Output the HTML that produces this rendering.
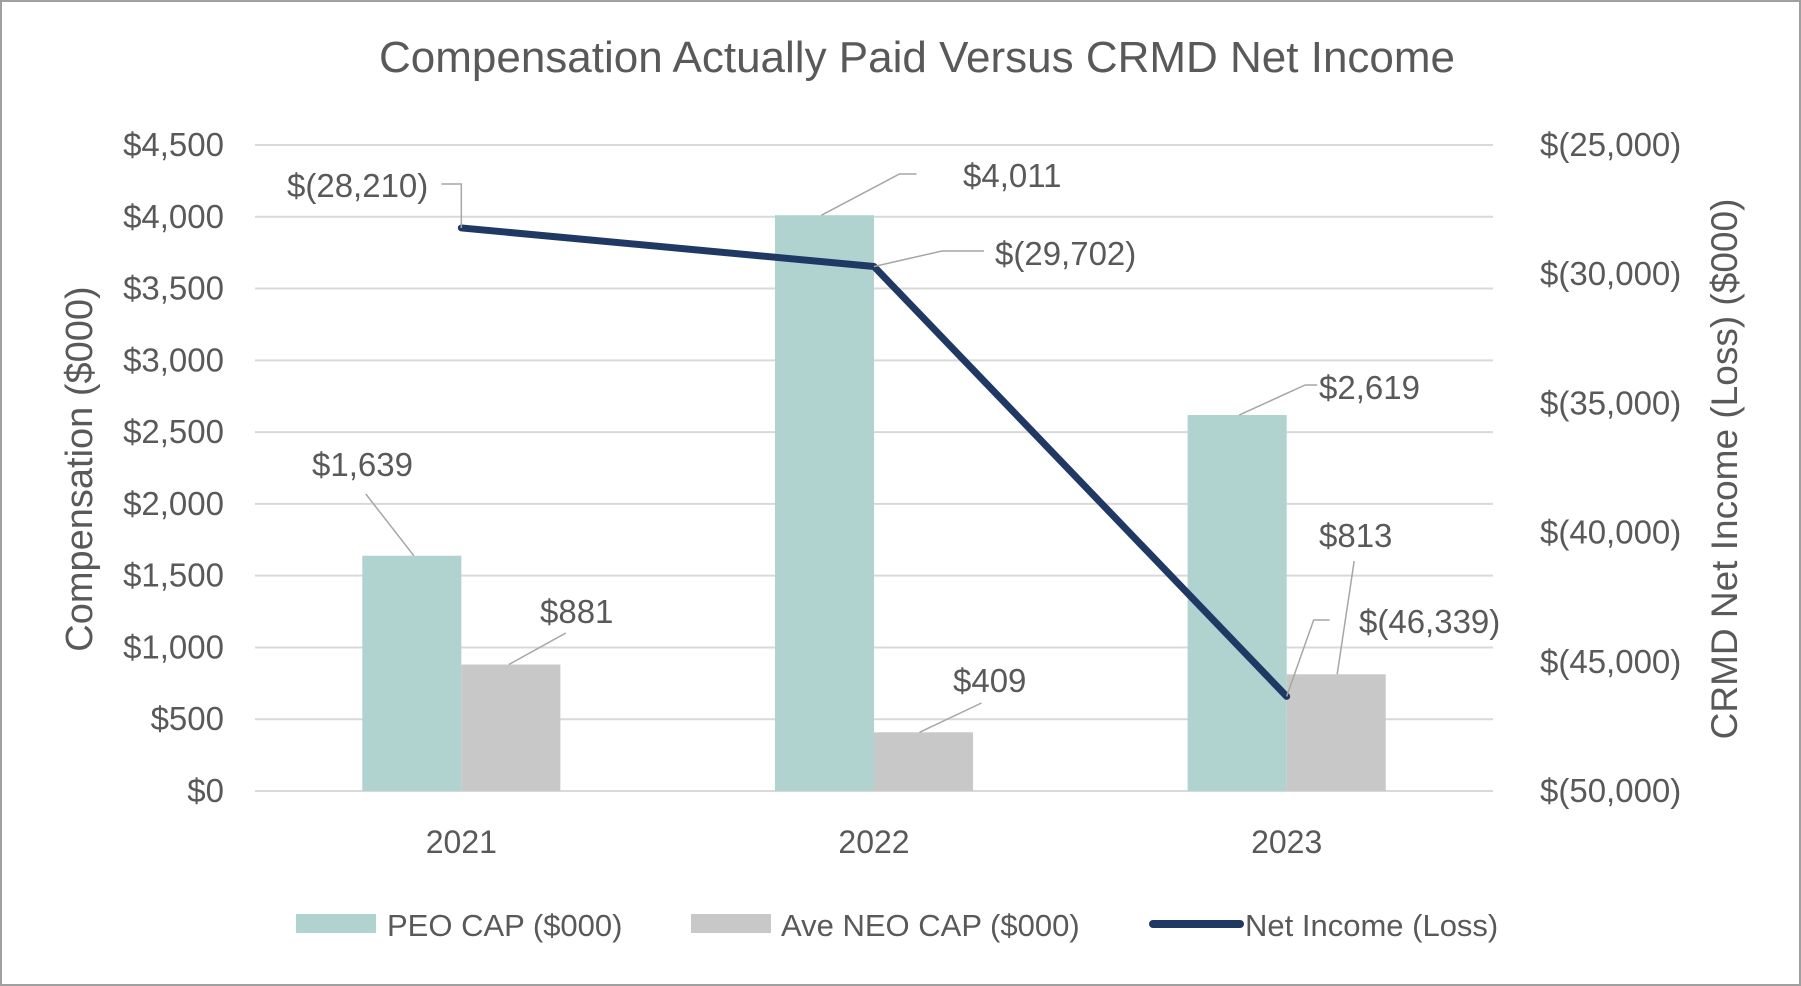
<!DOCTYPE html>
<html><head><meta charset="utf-8"><style>
html,body{margin:0;padding:0;background:#fff;}
svg{display:block;font-family:"Liberation Sans",sans-serif;}
</style></head><body>
<svg id="chart" width="1801" height="986" viewBox="0 0 1801 986">
<rect x="1" y="1" width="1799" height="984" fill="#fff" stroke="#a0a0a0" stroke-width="2"/>
<text x="917" y="72" text-anchor="middle" font-size="44" fill="#595959">Compensation Actually Paid Versus CRMD Net Income</text>
<g id="grid"></g><g id="bars"></g><g id="line"></g><g id="labels"></g><g id="axes"></g>
<text transform="translate(92,469) rotate(-90)" text-anchor="middle" font-size="38" fill="#595959">Compensation ($000)</text>
<text transform="translate(1737,469) rotate(-90)" text-anchor="middle" font-size="37" fill="#595959">CRMD Net Income (Loss) ($000)</text>
<g>
<g><rect x="296" y="914" width="80" height="19" fill="#b0d3cf"/><text x="387" y="936" font-size="31" fill="#595959">PEO CAP ($000)</text></g>
<g><rect x="691" y="914" width="80" height="19" fill="#c8c8c8"/><text x="781" y="936" font-size="31" fill="#595959">Ave NEO CAP ($000)</text></g>
<g><line x1="1153" y1="924" x2="1240" y2="924" stroke="#1f3864" stroke-width="8" stroke-linecap="round"/><text x="1245" y="936" font-size="31" fill="#595959">Net Income (Loss)</text></g>
</g>
</svg>
<script>
const categories = ["2021","2022","2023"];
const peoValues = [1639, 4011, 2619];
const neoValues = [881, 409, 813];
const netIncome = [-28210, -29702, -46339];
const leftTicks = [0,500,1000,1500,2000,2500,3000,3500,4000,4500];
const rightTicks = [-50000,-45000,-40000,-35000,-30000,-25000];

const NS="http://www.w3.org/2000/svg";
const X0=255, X1=1493, Y0=791, Y1=145;
const catW=(X1-X0)/categories.length;
const yL=v=>Y0-(v-0)/(4500-0)*(Y0-Y1);
const yR=v=>Y0-(v-(-50000))/(25000)*(Y0-Y1);
const cx=i=>X0+catW*(i+0.5);
function mk(tag,attrs,parent){const e=document.createElementNS(NS,tag);for(const k in attrs)e.setAttribute(k,attrs[k]);document.getElementById(parent).appendChild(e);return e;}
const fmt=v=>"$"+v.toLocaleString("en-US");
const fmtN=v=>v<0?"$("+Math.abs(v).toLocaleString("en-US")+")":fmt(v);

leftTicks.forEach(t=>{
 const l=mk("line",{x1:X0,x2:X1,y1:yL(t),y2:yL(t),stroke:"#d9d9d9","stroke-width":2},"grid");
 
 
 const tx=mk("text",{x:224,y:yL(t)+11,"text-anchor":"end","font-size":33,fill:"#595959"},"axes");
 tx.textContent=fmt(t);
 
 
});
rightTicks.forEach(t=>{
 const tx=mk("text",{x:1540,y:yR(t)+11,"font-size":33,fill:"#595959"},"axes");
 tx.textContent=fmtN(t);
 
 
});
const bw=catW*0.24;
categories.forEach((c,i)=>{
 const b1=mk("rect",{x:cx(i)-bw,y:yL(peoValues[i]),width:bw,height:Y0-yL(peoValues[i]),fill:"#b0d3cf"},"bars");
 
 
 const b2=mk("rect",{x:cx(i),y:yL(neoValues[i]),width:bw,height:Y0-yL(neoValues[i]),fill:"#c8c8c8"},"bars");
 
 
 const t=mk("text",{x:cx(i),y:853,"text-anchor":"middle","font-size":32,fill:"#595959"},"axes");
 t.textContent=c;
 
 
});
const pts=netIncome.map((v,i)=>cx(i)+","+yR(v)).join(" ");
const pl=mk("polyline",{points:pts,fill:"none",stroke:"#1f3864","stroke-width":7,"stroke-linejoin":"round","stroke-linecap":"round"},"line");



function label(txt,x,y,leader){
 if(leader){const p=mk("polyline",{points:leader,fill:"none",stroke:"#a6a6a6","stroke-width":1.5},"labels");
  
  }
 const t=mk("text",{x:x,y:y,"font-size":33,fill:"#595959"},"labels");
 t.textContent=txt;
 
 
}
const pL=i=>cx(i)-bw/2, nL=i=>cx(i)+bw/2;
label(fmtN(netIncome[0]),287,197,`${cx(0)-20},184 ${cx(0)},184 ${cx(0)},${yR(netIncome[0])}`);
label(fmt(peoValues[1]),963,187,`${pL(1)-3},${yL(peoValues[1])} ${pL(1)+75},174 ${pL(1)+92},174`);
label(fmtN(netIncome[1]),995,265,`${cx(1)},${yR(netIncome[1])} ${cx(1)+68},251 ${cx(1)+110},251`);
label(fmt(peoValues[0]),312,476,`${pL(0)-46},494 ${pL(0)+2},${yL(peoValues[0])}`);
label(fmt(neoValues[0]),540,623,`${nL(0)-2},${yL(neoValues[0])} ${nL(0)+55},633`);
label(fmt(neoValues[1]),953,692,`${nL(1)-4},${yL(neoValues[1])} ${nL(1)+58},703`);
label(fmt(peoValues[2]),1319,399,`${pL(2)+2},${yL(peoValues[2])} ${pL(2)+68},385 ${pL(2)+80},385`);
label(fmt(neoValues[2]),1319,547,`${nL(2)+1},${yL(neoValues[2])} ${nL(2)+18},561`);
label(fmtN(netIncome[2]),1359,633,`${cx(2)},${yR(netIncome[2])} ${cx(2)+27},620 ${cx(2)+43},620`);
</script>
</body></html>
